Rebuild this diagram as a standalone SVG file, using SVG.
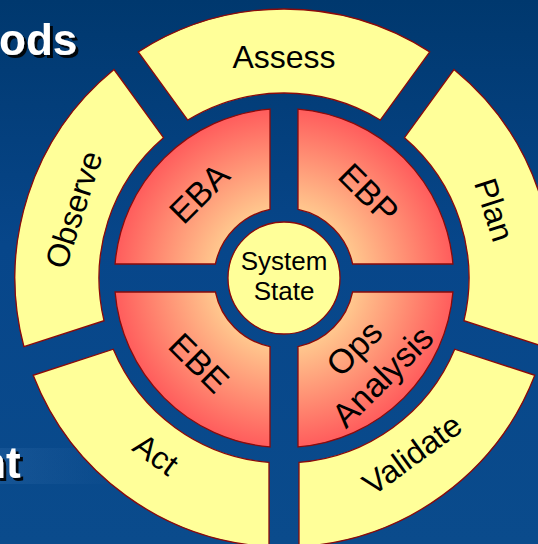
<svg xmlns="http://www.w3.org/2000/svg" width="538" height="544" viewBox="0 0 538 544">
<defs>
<linearGradient id="bg" x1="0" y1="0" x2="0" y2="1">
 <stop offset="0" stop-color="#00386e"/>
 <stop offset="0.45" stop-color="#07468a"/>
 <stop offset="1" stop-color="#0a4b8c"/>
</linearGradient>
<radialGradient id="redg" gradientUnits="userSpaceOnUse" cx="0" cy="0" r="170">
 <stop offset="0.41" stop-color="#ffc88e"/>
 <stop offset="1" stop-color="#ff5c5c"/>
</radialGradient>
<linearGradient id="tex" x1="0" y1="0" x2="1" y2="0">
 <stop offset="0" stop-color="#6fa0d8" stop-opacity="0.12"/>
 <stop offset="1" stop-color="#6fa0d8" stop-opacity="0"/>
</linearGradient>
<filter id="sh" x="-20%" y="-20%" width="150%" height="150%">
 <feDropShadow dx="3" dy="3" stdDeviation="0.6" flood-color="#000" flood-opacity="0.9"/>
</filter>
<path id="seg" d="M -145.73,-226.10 A 269 269 0 0 1 145.73,-226.10 L 96.24,-157.99 A 185 185 0 0 0 -96.24,-157.99 Z"/>
<path id="quad" d="M -14,-68.59 L -14,-168.92 A 169.5 169.5 0 0 0 -168.92,-14 L -68.59,-14 A 70 70 0 0 1 -14,-68.59 Z"/>
</defs>
<style>
.ring { fill:#ffff99; stroke:#8b0a0a; stroke-width:1.3; }
.quad { fill:url(#redg); stroke:#8b0a0a; stroke-width:1.3; }
.core { fill:#ffff99; stroke:#8b0a0a; stroke-width:1.3; }
.lbl { font-family:"Liberation Sans", Arial, sans-serif; font-size:32px; fill:#000; text-anchor:middle; }
.in { font-size:34px; }
.sys { font-family:"Liberation Sans", Arial, sans-serif; font-size:26px; fill:#000; text-anchor:middle; }
.title { font-family:"Liberation Sans", Arial, sans-serif; font-size:44px; font-weight:bold; fill:#fff; filter:url(#sh); }
</style>
<rect width="538" height="544" fill="url(#bg)"/>
<rect x="0" y="448" width="120" height="36" fill="url(#tex)"/>
<text class="title" x="-1" y="55">ods</text>
<text class="title" x="-21" y="478">nt</text>
<g transform="translate(284,278)">
 <g id="assess"><use href="#seg" class="ring"/><text class="lbl" x="0" y="-210">Assess</text></g>
 <g id="plan" transform="rotate(72)"><use href="#seg" class="ring"/><text class="lbl" x="0" y="-210">Plan</text></g>
 <g id="validate"><use href="#seg" class="ring" transform="rotate(144)"/><text class="lbl" transform="rotate(-36)" x="0" y="229">Validate</text></g>
 <g id="act"><use href="#seg" class="ring" transform="rotate(216)"/><text class="lbl" transform="rotate(36)" x="0" y="229">Act</text></g>
 <g id="observe" transform="rotate(288)"><use href="#seg" class="ring"/><text class="lbl" x="0" y="-210">Observe</text></g>
 <g id="eba"><use href="#quad" class="quad"/><text class="lbl in" transform="rotate(-45)" x="0" y="-108">EBA</text></g>
 <g id="ebp"><use href="#quad" class="quad" transform="rotate(90)"/><text class="lbl in" transform="rotate(45)" x="0" y="-108">EBP</text></g>
 <g id="ops-analysis"><use href="#quad" class="quad" transform="rotate(180)"/><text class="lbl in" transform="rotate(-45)"><tspan x="0" y="111">Ops</tspan><tspan x="0" y="151">Analysis</tspan></text></g>
 <g id="ebe"><use href="#quad" class="quad" transform="rotate(270)"/><text class="lbl in" transform="rotate(45)" x="0" y="132">EBE</text></g>
 <g id="system-state"><circle class="core" cx="0" cy="0" r="56"/><text class="sys"><tspan x="0" y="-8">System</tspan><tspan x="0" y="22">State</tspan></text></g>
</g>
<g id="connectors"/>
</svg>
